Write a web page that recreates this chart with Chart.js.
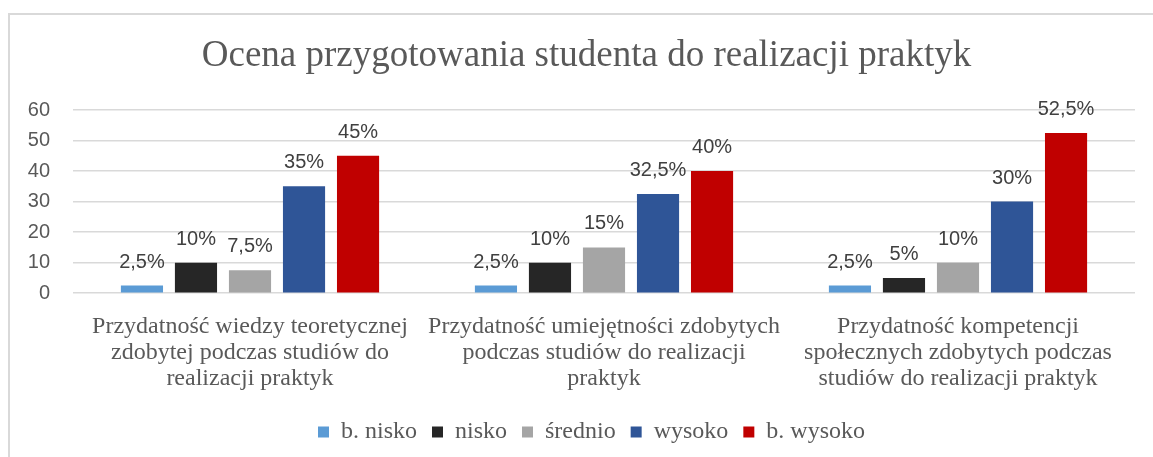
<!DOCTYPE html>
<html>
<head>
<meta charset="utf-8">
<script src="https://cdn.jsdelivr.net/npm/chart.js@4.4.1/dist/chart.umd.min.js"></script>
<style>
    html, body { margin: 0; padding: 0; background: #fff; }
    #frame { position: absolute; left: 0; top: 0; width: 1153px; height: 457px; overflow: hidden; }
    #border { position: absolute; left: 8px; top: 13px; width: 1300px; height: 600px; border-left: 2px solid #d9d9d9; border-top: 2px solid #d9d9d9; }
    #wrap { position: absolute; left: 0; top: 0; width: 1153px; height: 457px; }
</style>
</head>
<body>
<div id="frame">
    <div id="border"></div>
    <div id="wrap"><canvas id="chart"></canvas></div>
</div>
<script>
const title = 'Ocena przygotowania studenta do realizacji praktyk';

const categories = [
    ['Przydatność wiedzy teoretycznej', 'zdobytej podczas studiów do', 'realizacji praktyk'],
    ['Przydatność umiejętności zdobytych', 'podczas studiów do realizacji', 'praktyk'],
    ['Przydatność kompetencji', 'społecznych zdobytych podczas', 'studiów do realizacji praktyk']
];

const seriesNames = ['b. nisko', 'nisko', 'średnio', 'wysoko', 'b. wysoko'];

const bNisko = [2.5, 2.5, 2.5];
const nisko = [10, 10, 5];
const srednio = [7.5, 15, 10];
const wysoko = [35, 32.5, 30];
const bWysoko = [45, 40, 52.5];

const yTicks = [0, 10, 20, 30, 40, 50, 60];

const COLORS = ['#5B9BD5', '#262626', '#A5A5A5', '#2F5597', '#C00000'];

const SERIF = '"Liberation Serif", "Times New Roman", serif';
const SANS = '"Liberation Sans", Arial, sans-serif';

// tytuł rysowany ręcznie, żeby wyśrodkować go jak w oryginale
const titlePlugin = {
    id: 'titlePlugin',
    afterLayout: (chart) => {
        // legenda w oryginale jest przesunięta w prawo
        if (chart.legend) {
            chart.legend.left += 19;
            chart.legend.right += 19;
        }
    },
    afterDraw: (chart) => {
        const ctx = chart.ctx;
        ctx.save();
        ctx.font = '37px ' + SERIF;
        ctx.fillStyle = '#595959';
        ctx.textAlign = 'center';
        ctx.textBaseline = 'middle';
        ctx.fillText(title, chart.width / 2 + 10, 56);
        ctx.restore();
    }
};

// etykiety nad słupkami (format z przecinkiem)
const barLabels = {
    id: 'barLabels',
    afterDatasetsDraw: (chart) => {
        const ctx = chart.ctx;
        ctx.save();
        ctx.font = '20px ' + SANS;
        ctx.fillStyle = '#404040';
        ctx.textAlign = 'center';
        ctx.textBaseline = 'alphabetic';
        chart.data.datasets.forEach((ds, i) => {
            const meta = chart.getDatasetMeta(i);
            meta.data.forEach((bar, j) => {
                const txt = String(ds.data[j]).replace('.', ',') + '%';
                ctx.fillText(txt, bar.x, bar.y - 18);
            });
        });
        ctx.restore();
    }
};

const datasets = [bNisko, nisko, srednio, wysoko, bWysoko].map((data, i) => ({
    label: seriesNames[i],
    data: data,
    backgroundColor: COLORS[i],
    borderWidth: 0,
    categoryPercentage: 0.763,
    barPercentage: 0.78
}));

new Chart(document.getElementById('chart'), {
    type: 'bar',
    data: { labels: categories, datasets: datasets },
    options: {
        responsive: true,
        maintainAspectRatio: false,
        animation: false,
        layout: { padding: { left: 10, right: 18, top: 110, bottom: 3 } },
        plugins: {
            title: { display: false },
            legend: {
                position: 'bottom',
                labels: {
                    color: '#595959',
                    font: { family: SERIF, size: 24 },
                    boxWidth: 11,
                    boxHeight: 11,
                    padding: 15
                }
            },
            tooltip: { enabled: false }
        },
        scales: {
            x: {
                grid: { display: false },
                border: { display: false },
                ticks: {
                    color: '#595959',
                    font: { family: SERIF, size: 24, lineHeight: 1.08 },
                    maxRotation: 0,
                    autoSkip: false,
                    padding: 13
                }
            },
            y: {
                min: 0,
                max: 60,
                afterFit: (scale) => { scale.width = 63; },
                afterBuildTicks: (scale) => { scale.ticks = yTicks.map(v => ({ value: v })); },
                grid: { color: '#d9d9d9', lineWidth: 1.5, drawTicks: false },
                border: { display: false },
                ticks: {
                    color: '#595959',
                    font: { family: SANS, size: 20 },
                    padding: 23
                }
            }
        }
    },
    plugins: [barLabels, titlePlugin]
});
</script>
</body>
</html>
